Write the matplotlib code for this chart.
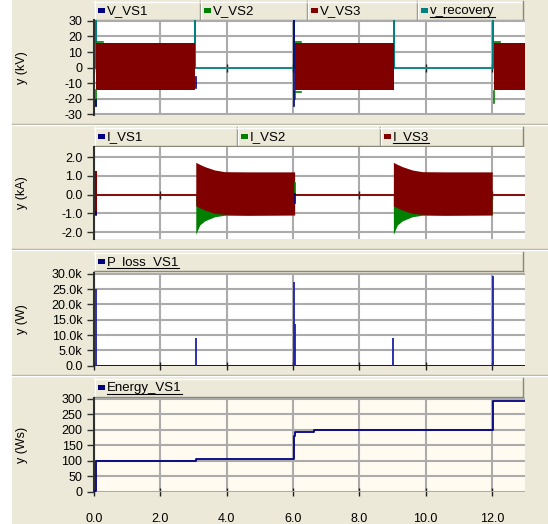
import matplotlib
matplotlib.use('Agg')
import matplotlib.pyplot as plt
from matplotlib.patches import Rectangle

plt.rcParams['font.family'] = ['Liberation Sans', 'DejaVu Sans']

# ---------------- data ----------------
t_max = 13.0
x_ticks = [0, 2, 4, 6, 8, 10, 12]
x_ticklabels = ['0.0', '2.0', '4.0', '6.0', '8.0', '10.0', '12.0']

# panel 1: voltages (kV); V_VS3 blocks drawn as envelope of the fast sine
vs3_on = [0.07, 6.05, 12.05]
vs3_off = [3.05, 9.05, 13.0]
vs3_hi = 15.7
vs3_lo = -14.5
rec_t = [0.0, 0.06, 0.06, 0.06, 3.06, 3.06, 3.06, 6.03, 6.03, 6.03,
         9.05, 9.05, 9.05, 12.04, 12.04, 12.04, 13.0]
rec_v = [0, 0, 35, 0, 0, 35, 0, 0, 35, 0, 0, 35, 0, 0, 35, 0, 0]
vs2_t = [0.07, 0.28, None, 0.07, 0.07, None, 6.05, 6.25, None, 6.05, 6.25,
         None, 6.07, 6.07, None, 12.05, 12.25, None, 12.06, 12.06]
vs2_v = [16.5, 16.5, None, -14.5, -25, None, 16.5, 16.5, None, -15.5, -15.5,
         None, -15, -20, None, 16.5, 16.5, None, -15, -23]
vs1_t = [0.06, 0.06, None, 3.07, 3.07, None, 6.03, 6.03]
vs1_v = [-21, -24.5, None, -6, -13, None, 31, -25]

# panel 2: currents (kA); envelopes of the conduction blocks
i_on = [3.07, 9.03]
i_off = [6.05, 12.03]
env_dt = [0.0, 0.12, 0.27, 0.57, 0.87, 1.56, 2.98]
i3_hi = [1.73, 1.62, 1.50, 1.32, 1.23, 1.22, 1.22]
i3_lo = [-0.60, -0.70, -0.82, -1.00, -1.05, -1.08, -1.08]
i2_lo = [-2.12, -1.62, -1.40, -1.18, -1.10, -1.11, -1.08]
i3_t = [0.0, 0.06, 0.06, 0.06, 0.06, 13.0]
i3_v = [0.0, 0.0, 1.2, -1.05, 0.0, 0.0]
i2_t = [6.07, 6.07]
i2_v = [0.6, 0.05]
i1_t = [0.05, 0.05, None, 6.07, 6.07]
i1_v = [-0.95, -1.1, None, 0.05, -0.46]

# panel 3: P_loss_VS1 (W)
ploss_t = [0.06, 3.07, 6.02, 6.06, 9.03, 12.03]
ploss_peak = [25100, 9100, 27500, 13700, 9100, 29300]

# panel 4: Energy_VS1 (Ws), step values
energy_t = [0.0, 0.07, 3.07, 6.02, 6.06, 6.65, 12.03, 13.0]
energy_v = [2, 100, 104, 181, 194, 198, 294, 294]

# ---------------- colours ----------------
beige = '#ece9d8'
shade = '#aca899'
navy = '#000080'
green = '#008000'
maroon = '#800000'
teal = '#008080'
grid_c = '#ababab'

W, H = 548, 524
fig = plt.figure(figsize=(W / 100, H / 100), dpi=100, facecolor=beige)

bg = fig.add_axes([0, 0, 1, 1], zorder=0)
bg.set_xlim(0, W)
bg.set_ylim(H, 0)
bg.axis('off')
bg.add_patch(Rectangle((0, 0), 12, H, color='white', lw=0))
for y in (124, 249, 375):
    bg.plot([12, W], [y, y], color=shade, lw=1)
    bg.plot([12, W], [y + 1, y + 1], color='white', lw=1)

underlines = []


def header(top, bottom, edges, items):
    yc = (top + bottom) / 2
    for x0, x1, (name, col, uline) in zip(edges[:-1], edges[1:], items):
        bg.add_patch(Rectangle((x0, top), x1 - x0, bottom - top, facecolor=beige, edgecolor='none'))
        bg.plot([x0, x1], [top + 0.5, top + 0.5], color='white', lw=1)
        bg.plot([x0 + 0.5, x0 + 0.5], [top, bottom], color='white', lw=1)
        bg.plot([x1 - 0.5, x1 - 0.5], [top, bottom], color='#8a8778', lw=1)
        bg.plot([x0, x1], [bottom - 0.5, bottom - 0.5], color='#8a8778', lw=1)
        bg.add_patch(Rectangle((x0 + 4, yc - 2.5), 7, 5, color=col, lw=0))
        txt = bg.text(x0 + 13, yc + 0.5, name, va='center', ha='left', fontsize=9.5)
        if uline:
            underlines.append((txt, yc + 6.5))


def panel(top, bottom, ylim, yticks, yticklabels, ylabel, face='white', zero_axis=False):
    ax = fig.add_axes([94 / W, 1 - bottom / H, (525 - 94) / W, (bottom - top) / H], zorder=1)
    ax.set_facecolor(face)
    ax.set_xlim(0, t_max)
    ax.set_ylim(*ylim)
    ax.set_xticks(x_ticks)
    ax.set_yticks(yticks)
    ax.set_yticklabels(yticklabels)
    ax.grid(True, color=grid_c, lw=1.5)
    ax.set_axisbelow(True)
    for s in ('top', 'right', 'bottom'):
        ax.spines[s].set_visible(False)
    ax.spines['left'].set_color('#303030')
    ax.spines['left'].set_linewidth(1.5)
    if zero_axis:
        ax.spines['bottom'].set_position(('data', 0))
    ax.tick_params(axis='y', direction='out', length=4.8, width=1, color='#303030',
                   pad=3.5, labelsize=9)
    ax.tick_params(axis='x', direction='inout', length=6, width=1, color='#202020',
                   labelbottom=False)
    bg.text(22, (top + bottom) / 2, ylabel, rotation=90, ha='center', va='center', fontsize=9)
    return ax


# ---- panel 1: voltages ----
header(1, 20, [94, 200, 307, 417, 523],
       [('V_VS1', navy, False), ('V_VS2', green, False),
        ('V_VS3', maroon, False), ('v_recovery', teal, True)])
ax1 = panel(20, 115, (-30.5, 30.6), [30, 20, 10, 0, -10, -20, -30],
            ['30', '20', '10', '0', '-10', '-20', '-30'], 'y (kV)', zero_axis=True)
ax1.plot(rec_t, rec_v, color=teal, lw=1.2, zorder=2)
for a, b in zip(vs3_on, vs3_off):
    ax1.fill_between([a, b], [vs3_lo, vs3_lo], [vs3_hi, vs3_hi], color=maroon, lw=0, zorder=3)
ax1.plot(vs2_t, vs2_v, color=green, lw=1.2, zorder=4)
ax1.plot(vs1_t, vs1_v, color=navy, lw=1.2, zorder=4)

# ---- panel 2: currents ----
header(127, 146, [94, 237, 380, 523],
       [('I_VS1', navy, False), ('I_VS2', green, False), ('I_VS3', maroon, True)])
ax2 = panel(147, 239, (-2.37, 2.55), [2, 1, 0, -1, -2],
            ['2.0', '1.0', '0.0', '-1.0', '-2.0'], 'y (kA)', zero_axis=True)
ax2.plot(i3_t, i3_v, color=maroon, lw=1.3, zorder=2)
for a, b in zip(i_on, i_off):
    tt = [a + d for d in env_dt]
    ax2.fill_between(tt, i2_lo, 0, color=green, lw=0, zorder=3)
    ax2.fill_between(tt, i3_lo, i3_hi, color=maroon, lw=0, zorder=4)
ax2.plot(i2_t, i2_v, color=green, lw=1.2, zorder=5)
ax2.plot(i1_t, i1_v, color=navy, lw=1.2, zorder=5)

# ---- panel 3: losses ----
header(252, 271, [94, 523], [('P_loss_VS1', navy, True)])
ax3 = panel(273, 366, (-150, 30300), [30000, 25000, 20000, 15000, 10000, 5000, 0],
            ['30.0k', '25.0k', '20.0k', '15.0k', '10.0k', '5.0k', '0.0'], 'y (W)')
ax3.plot([0, t_max], [0, 0], color=navy, lw=2, zorder=3)
ax3.vlines(ploss_t, 0, ploss_peak, color='#2020a8', lw=1.3, zorder=3)

# ---- panel 4: energy ----
header(378, 397, [94, 523], [('Energy_VS1', navy, True)])
ax4 = panel(398, 492, (-1.5, 303), [300, 250, 200, 150, 100, 50, 0],
            ['300', '250', '200', '150', '100', '50', '0'], 'y (Ws)', face='#fffbf0')
ax4.plot(energy_t, energy_v, drawstyle='steps-post', color=navy, lw=1.3, zorder=3)
ax4.tick_params(axis='x', labelbottom=True, pad=12, labelsize=9)
ax4.set_xticklabels(x_ticklabels)

# underline the selected legend entries
renderer = fig.canvas.get_renderer()
inv = bg.transData.inverted()
for txt, yu in underlines:
    bb = txt.get_window_extent(renderer)
    (xa, _), (xb, _) = inv.transform([(bb.x0, bb.y0), (bb.x1, bb.y1)])
    bg.plot([xa, xb], [yu, yu], color='black', lw=0.8)

fig.savefig('out.png', dpi=100, facecolor=beige)
